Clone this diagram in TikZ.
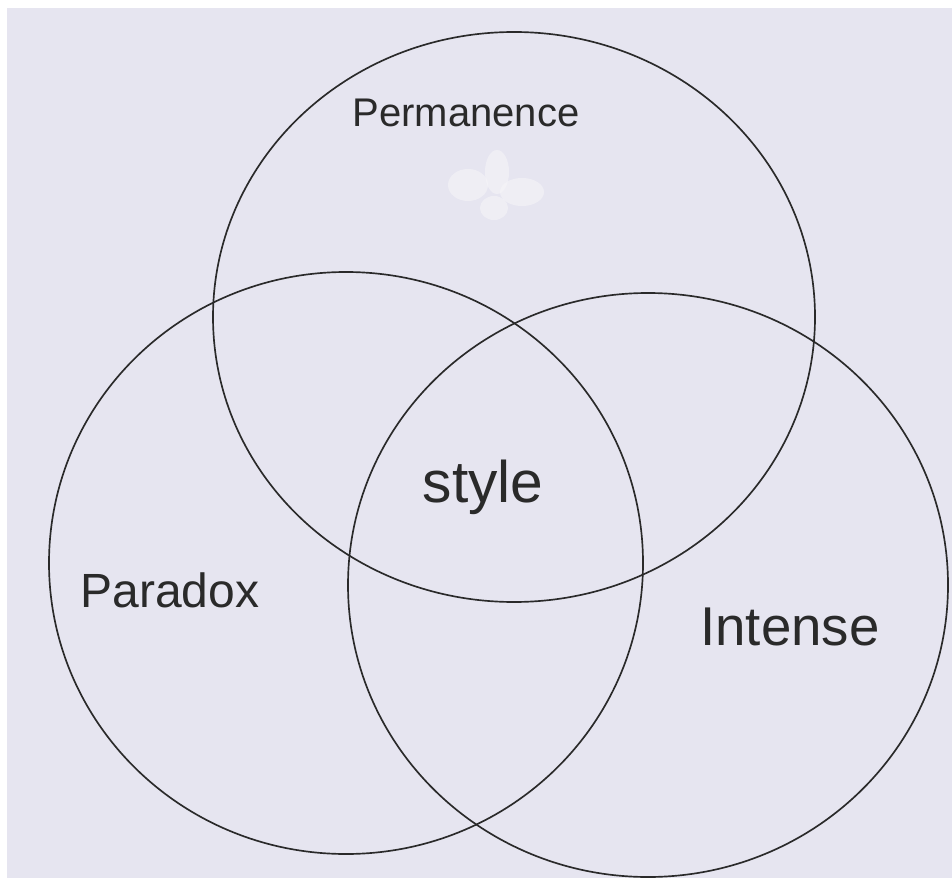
\documentclass[tikz,border=0pt]{standalone}
\usepackage{fontspec}
\setmainfont{Liberation Sans}
\begin{document}
\begin{tikzpicture}[x=0.75pt,y=-0.75pt]
\definecolor{paper}{HTML}{E6E5F0}
\definecolor{ink}{HTML}{2A2A2A}
\definecolor{blot}{HTML}{F6F5F8}
\tikzset{
  ring/.style={draw=ink,line width=1.25pt},
  lbl/.style={text=ink,inner sep=0pt,anchor=base}
}
\fill[white] (0,0) rectangle (952,880);
\useasboundingbox (0,0) rectangle (952,880);
\fill[paper] (7,8) rectangle (952,878);
% correction-fluid blot
\fill[blot,opacity=0.6] (468,185) ellipse [x radius=20, y radius=16];
\fill[blot,opacity=0.6] (497,172) ellipse [x radius=12, y radius=22];
\fill[blot,opacity=0.6] (522,192) ellipse [x radius=22, y radius=14];
\fill[blot,opacity=0.6] (494,208) ellipse [x radius=14, y radius=12];
% circles
\draw[ring] (514,317) ellipse [x radius=301, y radius=285];
\draw[ring] (346,563) ellipse [x radius=297, y radius=291];
\draw[ring] (648,585) ellipse [x radius=300, y radius=292];
% labels
\node[lbl,font=\fontsize{30}{36}\selectfont] (perm) at (466,127) {Permanence};
\node[lbl,font=\fontsize{44}{52}\selectfont] (sty) at (483,502) {style};
\node[lbl,font=\fontsize{36}{42}\selectfont] (para) at (170,607) {Paradox};
\node[lbl,font=\fontsize{41}{48}\selectfont] (inte) at (790,645) {Intense};
\end{tikzpicture}
\end{document}
